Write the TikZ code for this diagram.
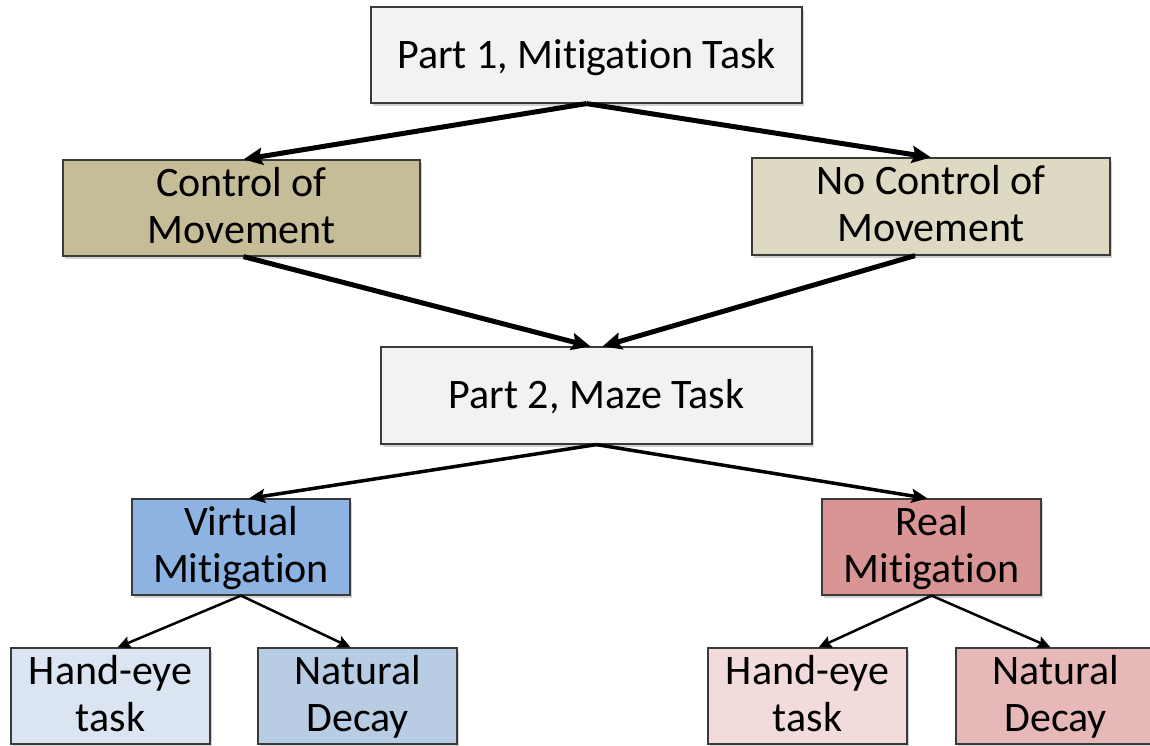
\documentclass[tikz,border=0pt]{standalone}
\usepackage{fontspec}
\setmainfont{Carlito}[RawFeature={-liga;-clig;-calt;-dlig}]
\usetikzlibrary{arrows.meta,shadows,calc}
\definecolor{partfill}{HTML}{F2F2F2}
\definecolor{ctrlfill}{HTML}{C4BD97}
\definecolor{nctrlfill}{HTML}{DDD9C3}
\definecolor{virtfill}{HTML}{8DB3E2}
\definecolor{realfill}{HTML}{D99594}
\definecolor{hebfill}{HTML}{DBE5F1}
\definecolor{ndbfill}{HTML}{B8CCE4}
\definecolor{herfill}{HTML}{F2DCDB}
\definecolor{ndrfill}{HTML}{E6B9B8}
\definecolor{edge}{HTML}{3A3A3A}
\tikzset{
  box/.style={draw=edge, line width=1.2pt, inner sep=0pt, align=flush center,
    font=\fontsize{42}{47}\selectfont,
    drop shadow={shadow xshift=2pt, shadow yshift=-3pt, opacity=0.35, fill=gray}},
  oneline/.style={text height=40pt, text depth=14pt},
  twoline/.style={text height=30pt, text depth=54pt},
  bigarrow/.style={line width=5pt, -{Stealth[length=19pt, width=17pt, inset=3pt]}},
  midarrow/.style={line width=3.5pt, -{Stealth[length=16pt, width=14pt, inset=3pt]}},
  smallarrow/.style={line width=2.5pt, -{Stealth[length=13pt, width=12pt, inset=2pt]}}
}
\begin{document}
\begin{tikzpicture}[x=1pt,y=-1pt]
\useasboundingbox (0,0) rectangle (1150,745);
\clip (0,0) rectangle (1150,745);
\fill[white] (0,0) rectangle (1150,745);
\node[box, oneline, fill=partfill, text width=431pt, minimum height=96pt] (p1) at (586.5,55) {Part 1, Mitigation Task};
\node[box, twoline, fill=ctrlfill, text width=357pt, minimum height=96pt] (ctrl) at (241.5,208) {Control of\\Movement};
\node[box, twoline, fill=nctrlfill, text width=358pt, minimum height=97pt] (nctrl) at (931,206.5) {No Control of\\Movement};
\node[box, oneline, fill=partfill, text width=431pt, minimum height=97pt] (p2) at (596.5,395.5) {Part 2, Maze Task};
\node[box, twoline, fill=virtfill, text width=218pt, minimum height=96pt] (virt) at (241,547) {Virtual\\Mitigation};
\node[box, twoline, fill=realfill, text width=219pt, minimum height=96pt] (real) at (931.5,547) {Real\\Mitigation};
\node[box, twoline, fill=hebfill, text width=199pt, minimum height=96pt] (heb) at (110.5,696) {Hand-eye\\task};
\node[box, twoline, fill=ndbfill, text width=199pt, minimum height=96pt] (ndb) at (357.5,696) {Natural\\Decay};
\node[box, twoline, fill=herfill, text width=199pt, minimum height=96pt] (her) at (807.5,696) {Hand-eye\\task};
\node[box, twoline, fill=ndrfill, text width=199pt, minimum height=96pt] (ndr) at (1055.5,696) {Natural\\Decay};
\draw[bigarrow] (p1.south) -- ($(ctrl.north)+(2,0)$);
\draw[bigarrow] (p1.south) -- (nctrl.north);
\draw[bigarrow] ($(ctrl.south)+(2,0)$) -- ($(p2.north)+(-6,0)$);
\draw[bigarrow] ($(nctrl.south)+(-16,0)$) -- ($(p2.north)+(6,0)$);
\draw[midarrow] (p2.south) -- ($(virt.north)+(8,0)$);
\draw[midarrow] (p2.south) -- ($(real.north)+(-4,0)$);
\draw[smallarrow] (virt.south) -- ($(heb.north)+(7,0)$);
\draw[smallarrow] (virt.south) -- ($(ndb.north)+(-7,0)$);
\draw[smallarrow] (real.south) -- ($(her.north)+(11,0)$);
\draw[smallarrow] (real.south) -- ($(ndr.north)+(-5,0)$);
\end{tikzpicture}
\end{document}
